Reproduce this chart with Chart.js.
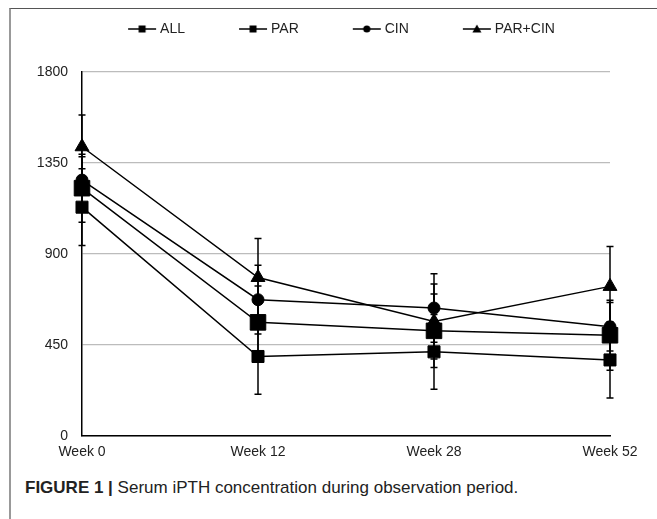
<!DOCTYPE html>
<html>
<head>
<meta charset="utf-8">
<script src="https://cdn.jsdelivr.net/npm/chart.js@4.4.0/dist/chart.umd.min.js"></script>
<style>
  body { margin: 0; background: #fff; }
  .frame { position: absolute; left: 9px; top: 8px; right: 0; bottom: 0; border-top: 1px solid #555; border-left: 2px solid #999; }
  #ipthChart { position: absolute; left: 0; top: 0; }
  .caption { position: absolute; left: 25px; top: 478px; font: 17px/20px "Liberation Sans", Arial, sans-serif; color: #222; white-space: nowrap; }
  .caption b { font-weight: bold; }
</style>
</head>
<body>
<div class="frame"></div>
<canvas id="ipthChart" width="657" height="470"></canvas>
<div class="caption"><b>FIGURE 1 |</b> Serum iPTH concentration during observation period.</div>
<script>
const weeks = ["Week 0", "Week 12", "Week 28", "Week 52"];
const yTickValues = [0, 450, 900, 1350, 1800];

const allMean = [1225, 561, 519, 497];
const allSd = [168, 180, 182, 173];
const parMean = [1131, 392, 415, 375];
const parSd = [190, 187, 185, 189];
const cinMean = [1265, 673, 632, 539];
const cinSd = [115, 170, 169, 120];
const comboMean = [1430, 783, 565, 739];
const comboSd = [157, 193, 186, 197];

const seriesNames = ["ALL", "PAR", "CIN", "PAR+CIN"];
const FONT = '"Liberation Sans", Arial, sans-serif';

// little "line + marker" pictures for the legend
function legendIcon(style) {
  const c = document.createElement("canvas");
  c.width = 78;
  c.height = 14;
  const g = c.getContext("2d");
  g.strokeStyle = "#000";
  g.fillStyle = "#000";
  g.lineWidth = 1.5;
  g.beginPath();
  g.moveTo(48, 7);
  g.lineTo(76, 7);
  g.stroke();
  g.beginPath();
  if (style === "rect") {
    g.rect(58.5, 3.5, 7, 7);
  } else if (style === "circle") {
    g.arc(62, 7, 3.6, 0, Math.PI * 2);
  } else {
    g.moveTo(62, 2.5);
    g.lineTo(66.5, 10.5);
    g.lineTo(57.5, 10.5);
    g.closePath();
  }
  g.fill();
  return c;
}
const legendIcons = [legendIcon("rect"), legendIcon("rect"), legendIcon("circle"), legendIcon("triangle")];

const errorBars = {
  id: "errorBars",
  beforeDatasetsDraw(chart) {
    const { ctx, scales: { x, y } } = chart;
    ctx.save();
    ctx.strokeStyle = "#000";
    ctx.lineWidth = 1.5;
    chart.data.datasets.forEach((ds) => {
      ds.errors.forEach((sd, i) => {
        const px = x.getPixelForValue(i);
        const top = y.getPixelForValue(ds.data[i] + sd);
        const bottom = y.getPixelForValue(ds.data[i] - sd);
        ctx.beginPath();
        ctx.moveTo(px, top);
        ctx.lineTo(px, bottom);
        ctx.moveTo(px - 3.5, top);
        ctx.lineTo(px + 3.5, top);
        ctx.moveTo(px - 3.5, bottom);
        ctx.lineTo(px + 3.5, bottom);
        ctx.stroke();
      });
    });
    ctx.restore();
  }
};

function series(label, data, errors, pointStyle, radius) {
  return {
    label, data, errors, pointStyle,
    pointRadius: radius,
    pointHoverRadius: radius,
    borderColor: "#000",
    backgroundColor: "#000",
    pointBackgroundColor: "#000",
    pointBorderColor: "#000",
    borderWidth: 1.5,
    pointBorderWidth: 1,
    tension: 0,
    fill: false
  };
}

const ctx = document.getElementById("ipthChart").getContext("2d");
new Chart(ctx, {
  type: "line",
  data: {
    labels: weeks,
    datasets: [
      series(seriesNames[0], allMean, allSd, "rect", 11),
      series(seriesNames[1], parMean, parSd, "rect", 8.5),
      series(seriesNames[2], cinMean, cinSd, "circle", 6),
      series(seriesNames[3], comboMean, comboSd, "triangle", 8)
    ]
  },
  options: {
    responsive: false,
    animation: false,
    layout: { padding: { left: 30, right: 47, top: 11, bottom: 1.5 } },
    plugins: {
      tooltip: { enabled: false },
      legend: {
        position: "top",
        labels: {
          usePointStyle: true,
          pointStyleWidth: 68,
          padding: 11,
          color: "#222",
          font: { family: FONT, size: 14 },
          generateLabels(chart) {
            const items = Chart.defaults.plugins.legend.labels.generateLabels(chart);
            items.forEach((item, i) => { item.pointStyle = legendIcons[i]; });
            return items;
          }
        }
      },
      // empty title used as a spacer between legend and plot
      title: {
        display: true,
        text: " ",
        weight: 500,
        font: { size: 10, lineHeight: 1 },
        padding: { top: 0, bottom: 16 }
      }
    },
    scales: {
      x: {
        grid: { display: false, drawTicks: false },
        border: { color: "#000", width: 1.5 },
        ticks: { color: "#222", font: { family: FONT, size: 14 }, padding: 8, maxRotation: 0 }
      },
      y: {
        min: 0,
        max: 1800,
        afterFit(scale) { scale.width = 52; },
        afterBuildTicks(scale) { scale.ticks = yTickValues.map((v) => ({ value: v })); },
        grid: { color: "#bcbcbc", lineWidth: 1.3, drawTicks: false },
        border: { color: "#000", width: 1.5 },
        ticks: {
          color: "#222",
          font: { family: FONT, size: 14 },
          padding: 14,
          callback: (v) => String(v)
        }
      }
    }
  },
  plugins: [errorBars]
});
</script>
</body>
</html>
